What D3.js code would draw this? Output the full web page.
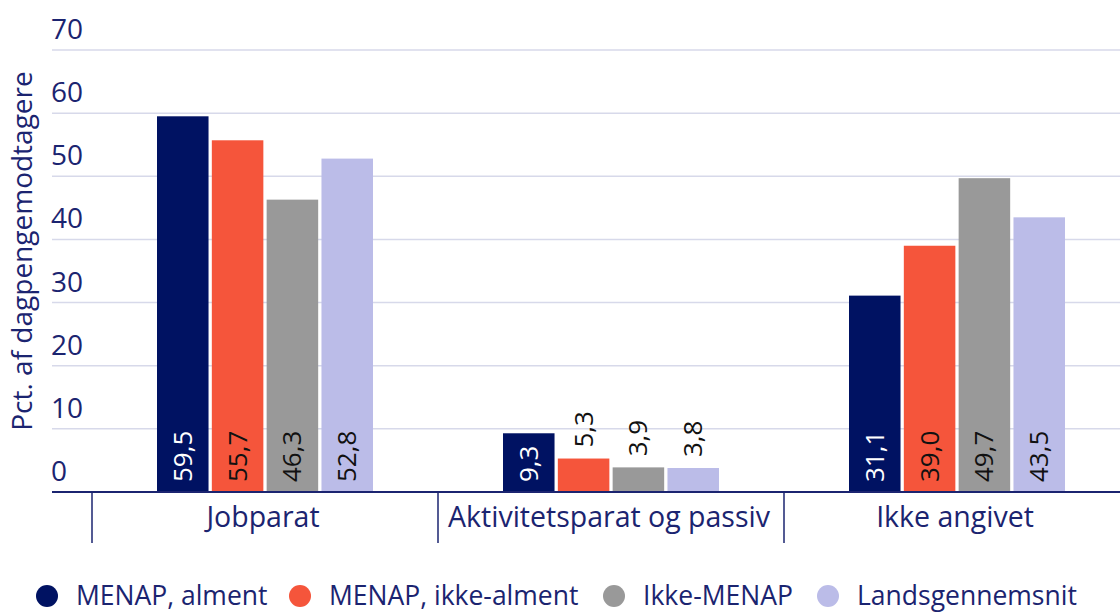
<!DOCTYPE html>
<html><head><meta charset="utf-8">
<script src="https://cdn.jsdelivr.net/npm/d3@7"></script>
<style>body{margin:0;background:#fff}svg{display:block}text{font-family:"Open Sans",Lato,sans-serif}</style>
</head><body>
<svg id="c" width="1120" height="613"></svg>
<script>
const categories = ["Jobparat", "Aktivitetsparat og passiv", "Ikke angivet"];
const seriesNames = ["MENAP, alment", "MENAP, ikke-alment", "Ikke-MENAP", "Landsgennemsnit"];
const menapAlment = [59.5, 9.3, 31.1];
const menapIkkeAlment = [55.7, 5.3, 39.0];
const ikkeMenap = [46.3, 3.9, 49.7];
const landsgennemsnit = [52.8, 3.8, 43.5];
const yTicks = [0, 10, 20, 30, 40, 50, 60, 70];
const colors = ["#001262", "#f5553b", "#999999", "#bbbce8"];
const labelColors = ["#ffffff", "#111111", "#111111", "#111111"];
const navy = "#1b2470";

const series = [menapAlment, menapIkkeAlment, ikkeMenap, landsgennemsnit];
const svg = d3.select("#c");
const y = d3.scaleLinear().domain([0, 70]).range([492, 50]);
const x0 = d3.scaleBand().domain(categories).range([92, 1130]);
const x1 = d3.scaleBand().domain(seriesNames).range([65, 281]).paddingInner(0.06);

// gridlines
svg.append("g").selectAll("line").data(yTicks).join("line")
  .attr("x1", 52).attr("x2", 1120)
  .attr("y1", d => y(d)).attr("y2", d => y(d))
  .attr("stroke", "#d7d9ea").attr("stroke-width", 1.5);
svg.append("g").selectAll("text").data(yTicks).join("text")
  .attr("x", 51).attr("y", d => y(d) - 11)
  .attr("fill", navy).attr("font-size", 28)
  .text(d => d);

// y title
svg.append("text")
  .attr("transform", "translate(32,251) rotate(-90)")
  .attr("text-anchor", "middle").attr("fill", navy).attr("font-size", 28)
  .text("Pct. af dagpengemodtagere");

// bars
const groups = svg.append("g").selectAll("g").data(categories).join("g")
  .attr("transform", d => `translate(${x0(d)},0)`);
groups.each(function(cat, ci) {
  const g = d3.select(this);
  seriesNames.forEach((s, si) => {
    const v = series[si][ci];
    g.append("rect")
      .attr("x", x1(s)).attr("width", x1.bandwidth())
      .attr("y", y(v)).attr("height", y(0) - y(v))
      .attr("fill", colors[si]);
    const inside = v > 7;
    const cx = x1(s) + x1.bandwidth() / 2;
    const ty = inside ? y(0) - 10 : y(v) - 11;
    g.append("text")
      .attr("transform", `translate(${cx + 9},${ty}) rotate(-90)`)
      .attr("text-anchor", "start")
      .attr("fill", inside ? labelColors[si] : "#111111")
      .attr("font-size", 26)
      .text(String(v.toFixed(1)).replace(".", ","));
  });
});

// x axis
svg.append("line").attr("x1", 52).attr("x2", 1120).attr("y1", 492).attr("y2", 492)
  .attr("stroke", navy).attr("stroke-width", 2);
svg.append("g").selectAll("line").data(categories).join("line")
  .attr("x1", d => x0(d)).attr("x2", d => x0(d)).attr("y1", 492).attr("y2", 543)
  .attr("stroke", navy).attr("stroke-width", 1.5);
svg.append("g").selectAll("text").data(categories).join("text")
  .attr("x", d => x0(d) + x0.bandwidth() / 2 - 2).attr("y", 527)
  .attr("text-anchor", "middle").attr("fill", navy).attr("font-size", 28.5)
  .text(d => d);

// legend
const legX = [47, 300, 614, 828];
const leg = svg.append("g").selectAll("g").data(seriesNames).join("g")
  .attr("transform", (d, i) => `translate(${legX[i]},596)`);
leg.append("circle").attr("cx", 0).attr("cy", 0).attr("r", 11).attr("fill", (d, i) => colors[i]);
leg.append("text").attr("x", 29).attr("y", 9).attr("fill", navy).attr("font-size", 26.5).text(d => d);
</script>
</body></html>
